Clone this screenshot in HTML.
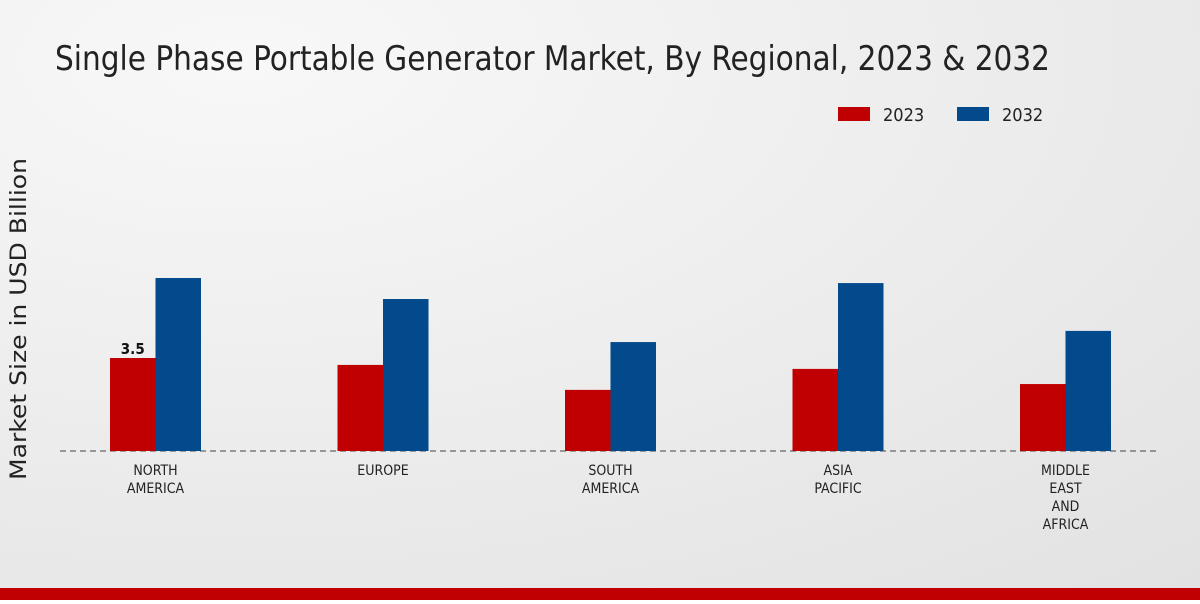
<!DOCTYPE html>
<html><head><meta charset="utf-8"><style>
body{margin:0;width:1200px;height:600px;overflow:hidden;font-family:"DejaVu Sans Condensed","DejaVu Sans","Liberation Sans",sans-serif}
</style></head><body>
<svg id="c" width="1200" height="600" xmlns="http://www.w3.org/2000/svg">
<defs><radialGradient id="bg" cx="0.2" cy="0.1" r="1.2"><stop offset="0" stop-color="#f8f8f8"/><stop offset="1" stop-color="#e2e2e2"/></radialGradient></defs>
<rect width="1200" height="600" fill="url(#bg)"/>
<text x="55" y="70" font-size="34" font-stretch="condensed" textLength="995" lengthAdjust="spacingAndGlyphs" fill="#222">Single Phase Portable Generator Market, By Regional, 2023 &amp; 2032</text>
<rect x="838" y="107" width="32" height="14" fill="#c00000"/>
<text x="883" y="121" font-size="18" fill="#222">2023</text>
<rect x="957" y="107" width="32" height="14" fill="#024a8c"/>
<text x="1002" y="121" font-size="18" fill="#222">2032</text>
<text transform="translate(26,319) rotate(-90)" text-anchor="middle" font-size="22" font-family="DejaVu Sans, sans-serif" textLength="322" lengthAdjust="spacingAndGlyphs" fill="#222">Market Size in USD Billion</text>
<line x1="60" y1="451" x2="1160" y2="451" stroke="#444" stroke-dasharray="6,4"/>
<g id="bars"></g><g id="labels"></g>
<rect x="0" y="588" width="1200" height="12" fill="#c00000"/>
</svg>
<script>
const categories=[["NORTH","AMERICA"],["EUROPE"],["SOUTH","AMERICA"],["ASIA","PACIFIC"],["MIDDLE","EAST","AND","AFRICA"]];
const values2023=[3.5,3.24,2.3,3.09,2.52];
const values2032=[6.51,5.72,4.1,6.32,4.52];
const ns="http://www.w3.org/2000/svg";
const baseY=451,pxPer=26.57,x0=155.5,step=227.5,bw=45.5;
const yS=v=>baseY-v*pxPer;
const xS=i=>x0+i*step;
const bars=document.getElementById('bars'),labels=document.getElementById('labels');
function mk(t,a){const e=document.createElementNS(ns,t);for(const k in a)e.setAttribute(k,a[k]);return e;}
categories.forEach((c,i)=>{
  const r=mk('rect',{x:xS(i)-bw,y:yS(values2023[i]),width:bw,height:baseY-yS(values2023[i]),fill:'#c00000'});
  
  
  bars.appendChild(r);
  const b=mk('rect',{x:xS(i),y:yS(values2032[i]),width:bw,height:baseY-yS(values2032[i]),fill:'#024a8c'});
  
  
  bars.appendChild(b);
  c.forEach((line,j)=>{
    const t=mk('text',{x:xS(i),y:475+j*18,'text-anchor':'middle','font-size':'14',fill:'#222'});
    t.textContent=line;
    
    
    labels.appendChild(t);
  });
});
const v=mk('text',{x:xS(0)-bw/2,y:yS(values2023[0])-4,'text-anchor':'middle','font-size':'15','font-weight':'bold',fill:'#111'});
v.textContent=values2023[0];


labels.appendChild(v);
</script>
</body></html>
